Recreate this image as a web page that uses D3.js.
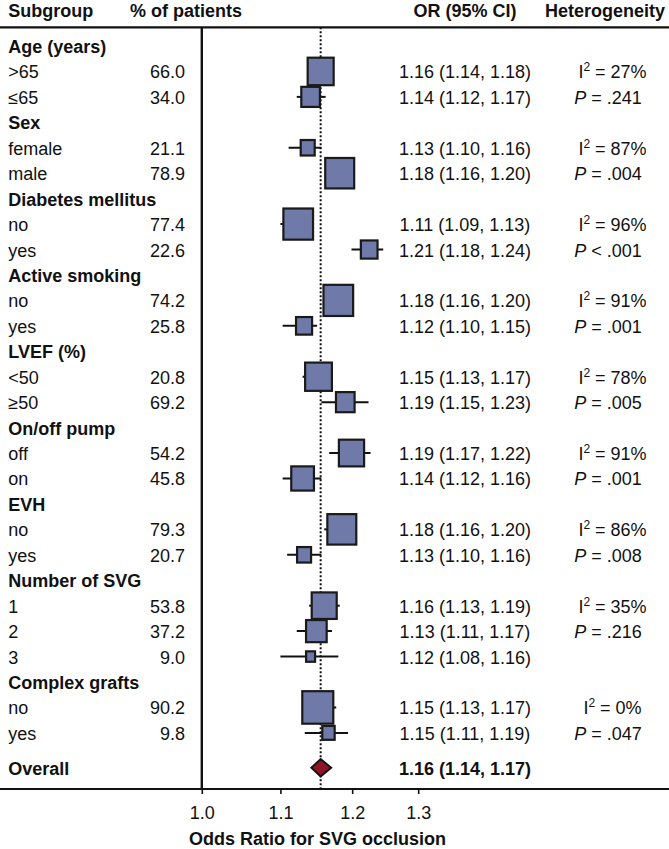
<!DOCTYPE html>
<html>
<head>
<meta charset="utf-8">
<script src="https://cdn.jsdelivr.net/npm/d3@7"></script>
<style>
  html, body { margin: 0; padding: 0; background: #fff; }
  svg { display: block; }
  text { font-family: "Liberation Sans", Arial, Helvetica, sans-serif; fill: #111; }
</style>
</head>
<body>
<svg id="chart" width="669" height="849"></svg>
<script>
// ---------------- data ----------------
const groups = ["Age (years)", "Sex", "Diabetes mellitus", "Active smoking", "LVEF (%)",
                "On/off pump", "EVH", "Number of SVG", "Complex grafts"];
const levels = [[">65", "≤65"], ["female", "male"], ["no", "yes"], ["no", "yes"], ["<50", "≥50"],
                ["off", "on"], ["no", "yes"], ["1", "2", "3"], ["no", "yes"]];
const pctPatients = [66.0, 34.0, 21.1, 78.9, 77.4, 22.6, 74.2, 25.8, 20.8, 69.2,
                     54.2, 45.8, 79.3, 20.7, 53.8, 37.2, 9.0, 90.2, 9.8];
const orLabels = ["1.16 (1.14, 1.18)", "1.14 (1.12, 1.17)", "1.13 (1.10, 1.16)", "1.18 (1.16, 1.20)",
                  "1.11 (1.09, 1.13)", "1.21 (1.18, 1.24)", "1.18 (1.16, 1.20)", "1.12 (1.10, 1.15)",
                  "1.15 (1.13, 1.17)", "1.19 (1.15, 1.23)", "1.19 (1.17, 1.22)", "1.14 (1.12, 1.16)",
                  "1.18 (1.16, 1.20)", "1.13 (1.10, 1.16)", "1.16 (1.13, 1.19)", "1.13 (1.11, 1.17)",
                  "1.12 (1.08, 1.16)", "1.15 (1.13, 1.17)", "1.15 (1.11, 1.19)"];
// plotted positions of the marks
const plotEst = [1.155, 1.141, 1.137, 1.182, 1.124, 1.225, 1.180, 1.132, 1.152, 1.190,
                 1.199, 1.130, 1.185, 1.132, 1.160, 1.149, 1.141, 1.151, 1.166];
const plotLo  = [1.139, 1.122, 1.111, 1.163, 1.100, 1.199, 1.160, 1.103, 1.130, 1.156,
                 1.167, 1.103, 1.160, 1.109, 1.139, 1.122, 1.100, 1.131, 1.133];
const plotHi  = [1.171, 1.162, 1.156, 1.201, 1.143, 1.246, 1.201, 1.150, 1.170, 1.224,
                 1.227, 1.156, 1.204, 1.156, 1.182, 1.171, 1.180, 1.177, 1.194];
const weights = [72, 39, 23.5, 88, 92, 32, 92, 30, 76, 39, 68, 56, 88, 23.5, 67, 47, 11, 100, 19];
const i2Values = ["27%", "87%", "96%", "91%", "78%", "91%", "86%", "35%", "0%"];
const pHet = ["= .241", "= .004", "< .001", "= .001", "= .005", "= .001", "= .008", "= .216", "= .047"];
const overallEst = 1.155, overallLo = 1.142, overallHi = 1.170;
const overallLabel = "1.16 (1.14, 1.17)";
const xTicks = [1.0, 1.1, 1.2, 1.3];
const headers = ["Subgroup", "% of patients", "OR (95% CI)", "Heterogeneity"];
const axisTitle = "Odds Ratio for SVG occlusion";

// ---------------- layout ----------------
const W = 669, H = 849;
const svg = d3.select("#chart");
const FS = 18;
const topLineY = 27.3, axisY = 789;
const x = d3.scaleLog().domain([1.0, 1.3]).range([201.8, 418.2]);
const rowY = k => 46 + 25.44 * k;
const side = d3.scaleSqrt().domain([0, 100]).range([0, 33]);

// build rows
const rows = [];
let k = 0, item = 0;
groups.forEach((g, gi) => {
  rows.push({type: "group", label: g, k: k++});
  levels[gi].forEach((lv, li) => {
    rows.push({type: "item", label: lv, k: k++, i: item, gi, li});
    item++;
  });
});
const overallK = 28.37;

// header texts
const hdr = svg.append("g").attr("font-weight", "bold").attr("font-size", FS);
hdr.append("text").attr("x", 8.3).attr("y", 16.5).text(headers[0]);
hdr.append("text").attr("x", 130).attr("y", 16.5).text(headers[1]);
hdr.append("text").attr("x", 465).attr("y", 16.5).attr("text-anchor", "middle").text(headers[2]);
hdr.append("text").attr("x", 605).attr("y", 16.5).attr("text-anchor", "middle").text(headers[3]);

// rules
svg.append("line").attr("x1", 0).attr("x2", W).attr("y1", topLineY).attr("y2", topLineY)
  .attr("stroke", "#111").attr("stroke-width", 2.2);

// dotted reference line at overall estimate
svg.append("line").attr("x1", x(overallEst)).attr("x2", x(overallEst))
  .attr("y1", topLineY).attr("y2", axisY)
  .attr("stroke", "#111").attr("stroke-width", 2).attr("stroke-dasharray", "2,2");

// vertical line at OR = 1
svg.append("line").attr("x1", x(1.0)).attr("x2", x(1.0)).attr("y1", topLineY).attr("y2", axisY)
  .attr("stroke", "#111").attr("stroke-width", 2.4);

// bottom axis
const axisG = svg.append("g").attr("transform", `translate(0,${axisY})`)
  .call(d3.axisBottom(x).tickValues(xTicks).tickFormat(d3.format(".1f")).tickSize(5).tickSizeOuter(0));
axisG.select(".domain").remove();
axisG.selectAll(".tick line").attr("stroke", "#111").attr("stroke-width", 1.6);
axisG.selectAll(".tick text").attr("font-size", FS).attr("font-family", "Liberation Sans, Arial, sans-serif")
  .attr("fill", "#111").attr("dy", null).attr("y", 30);
svg.append("line").attr("x1", 0).attr("x2", W).attr("y1", axisY).attr("y2", axisY)
  .attr("stroke", "#111").attr("stroke-width", 2.2);
svg.append("text").attr("x", 317.5).attr("y", 845).attr("text-anchor", "middle")
  .attr("font-weight", "bold").attr("font-size", FS).text(axisTitle);

// row labels
const lab = svg.append("g").attr("font-size", FS);
rows.forEach(r => {
  const yb = rowY(r.k) + 7;
  lab.append("text").attr("x", 8.3).attr("y", yb)
    .attr("font-weight", r.type === "group" ? "bold" : null).text(r.label);
  if (r.type === "item") {
    lab.append("text").attr("x", 185).attr("y", yb).attr("text-anchor", "end")
      .text(pctPatients[r.i].toFixed(1));
    lab.append("text").attr("x", 465).attr("y", yb).attr("text-anchor", "middle")
      .text(orLabels[r.i]);
    if (r.li === 0) {
      const t = lab.append("text").attr("x", 612.5).attr("y", yb).attr("text-anchor", "middle");
      t.append("tspan").text("I");
      t.append("tspan").attr("font-size", 12).attr("dy", -7).text("2");
      t.append("tspan").attr("dy", 7).text(" = " + i2Values[r.gi]);
    } else if (r.li === 1) {
      const t = lab.append("text").attr("x", 608).attr("y", yb).attr("text-anchor", "middle");
      t.append("tspan").attr("font-style", "italic").text("P");
      t.append("tspan").text(" " + pHet[r.gi]);
    }
  }
});
// overall row
lab.append("text").attr("x", 8.3).attr("y", rowY(overallK) + 7).attr("font-weight", "bold").text("Overall");
lab.append("text").attr("x", 465).attr("y", rowY(overallK) + 7).attr("text-anchor", "middle")
  .attr("font-weight", "bold").text(overallLabel);

// marks
const items = rows.filter(r => r.type === "item");
const marks = svg.append("g");
marks.selectAll("line.ci").data(items).join("line").attr("class", "ci")
  .attr("x1", d => x(plotLo[d.i])).attr("x2", d => x(plotHi[d.i]))
  .attr("y1", d => rowY(d.k)).attr("y2", d => rowY(d.k))
  .attr("stroke", "#111").attr("stroke-width", 2);
marks.selectAll("rect.box").data(items).join("rect").attr("class", "box")
  .attr("x", d => x(plotEst[d.i]) - (side(weights[d.i]) - 2) / 2)
  .attr("y", d => rowY(d.k) - (side(weights[d.i]) - 0.5) / 2)
  .attr("width", d => side(weights[d.i]) - 2)
  .attr("height", d => side(weights[d.i]) - 0.5)
  .attr("fill", "#6f7aa8").attr("stroke", "#1a1a1a").attr("stroke-width", 2.2);

// overall diamond
const oy = rowY(overallK), dh = 8.7;
svg.append("path")
  .attr("d", `M${x(overallLo)},${oy} L${x(overallEst)},${oy - dh} L${x(overallHi)},${oy} L${x(overallEst)},${oy + dh} Z`)
  .attr("fill", "#8b1527").attr("stroke", "#111").attr("stroke-width", 1.8);
</script>
</body>
</html>
